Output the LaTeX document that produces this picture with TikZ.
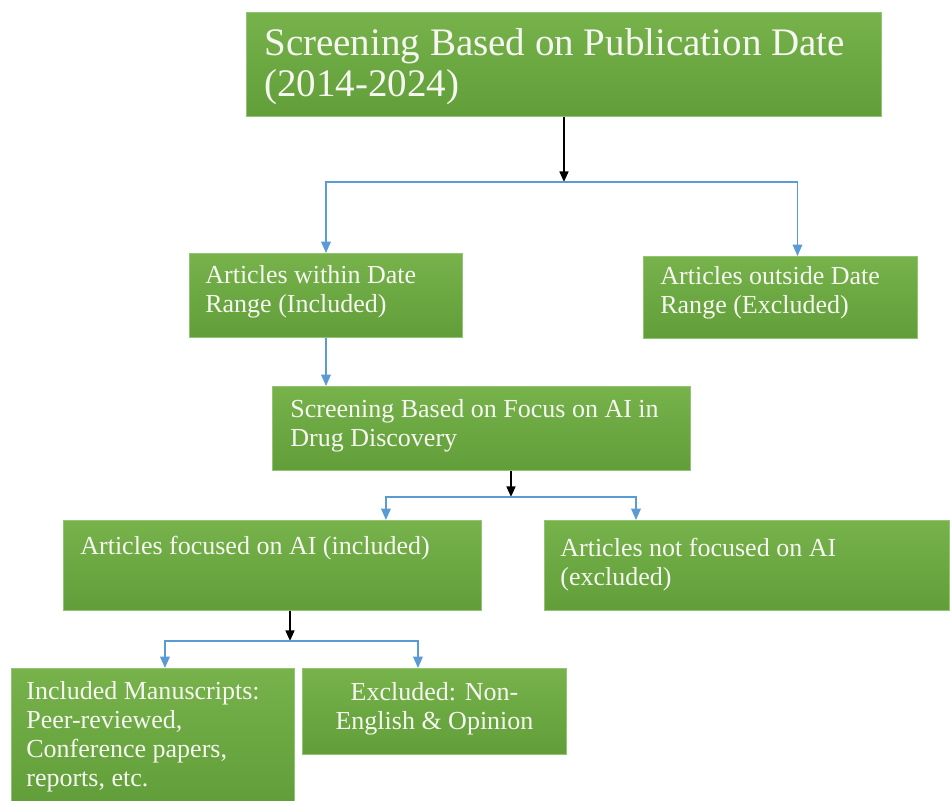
\documentclass[tikz,border=0pt]{standalone}
\usepackage{fontspec}
\setmainfont{Liberation Serif}
\usetikzlibrary{arrows.meta}
\definecolor{boxtop}{HTML}{77B24B}
\definecolor{boxbot}{HTML}{619E39}
\definecolor{boxline}{HTML}{93C474}
\definecolor{flowblue}{HTML}{5B9BD5}
\definecolor{boxtext}{HTML}{F7F7F2}
\newcommand{\headfont}{\fontsize{22.2}{23.4}\selectfont}
\newcommand{\boxfont}{\fontsize{14.8}{16.5}\selectfont}
\begin{document}
\begin{tikzpicture}[x=0.02cm, y=-0.02cm,
	stage/.style={rectangle, anchor=north west, inner sep=0pt, top color=boxtop, bottom color=boxbot, draw=boxline, line width=0.6pt},
	stagetext/.style={anchor=north west, inner sep=0pt, align=left, text=boxtext, font=\boxfont},
	down/.style={-{Triangle[width=5pt,length=6pt]}, line width=1.2pt, black},
	flow/.style={-{Triangle[width=5.5pt,length=6.5pt]}, line width=0.8pt, flowblue}]
	\useasboundingbox (0,0) rectangle (950,801);
	
	% boxes
	\node [stage, minimum width=12.7cm, minimum height=2.08cm] (b1) at (246,12) {};
	\node [stage, minimum width=5.46cm, minimum height=1.68cm] (b2) at (189,253) {};
	\node [stage, minimum width=5.48cm, minimum height=1.64cm] (b3) at (643,256) {};
	\node [stage, minimum width=8.36cm, minimum height=1.68cm] (b4) at (272,386) {};
	\node [stage, minimum width=8.36cm, minimum height=1.80cm] (b5) at (63,520) {};
	\node [stage, minimum width=8.10cm, minimum height=1.80cm] (b6) at (544,520) {};
	\node [stage, minimum width=5.66cm, minimum height=2.70cm] (b7) at (11,668) {};
	\node [stage, minimum width=5.28cm, minimum height=1.72cm] (b8) at (302,668) {};
	
	% texts
	\node [stagetext, font=\headfont] (t1) at ([shift={(18,16)}]b1.north west) {Screening Based on Publication Date\\(2014-2024)};
	\node [stagetext] (t2) at ([shift={(16,12)}]b2.north west) {Articles within Date\\Range (Included)};
	\node [stagetext] (t3) at ([shift={(17,10)}]b3.north west) {Articles outside Date\\Range (Excluded)};
	\node [stagetext] (t4) at ([shift={(18,13)}]b4.north west) {Screening Based on Focus on AI in\\Drug Discovery};
	\node [stagetext] (t5) at ([shift={(17,16)}]b5.north west) {Articles focused on AI (included)};
	\node [stagetext] (t6) at ([shift={(16,18)}]b6.north west) {Articles not focused on AI\\(excluded)};
	\node [stagetext] (t7) at ([shift={(15,13)}]b7.north west) {Included Manuscripts:\\Peer-reviewed,\\Conference papers,\\reports, etc.};
	\node [stagetext, anchor=north, align=center] (t8) at ([shift={(0,14)}]b8.north) {Excluded: Non-\\English \& Opinion};
	
	% junctions
	\coordinate (j1) at (b1.south |- 0,182);
	\coordinate (j2) at (511,497);
	\coordinate (j3) at (290,641);
	
	% lines
	\draw [down] (b1.south) -- (j1);
	\draw [flow] (j1) -| (b2.north);
	\draw [flow] (j1) -| ([xshift=0.34cm]b3.north);
	
	\draw [flow] (b2.south) -- (b2.south |- b4.north);
	
	\draw [down] (j2 |- b4.south) -- (j2);
	\draw [flow] (j2) -| ([xshift=6.46cm]b5.north west);
	\draw [flow] (j2) -| ([xshift=1.84cm]b6.north west);
	
	\draw [down] (j3 |- b5.south) -- (j3);
	\draw [flow] (j3) -| ([xshift=3.08cm]b7.north west);
	\draw [flow] (j3) -| ([xshift=2.32cm]b8.north west);
\end{tikzpicture}
\end{document}
